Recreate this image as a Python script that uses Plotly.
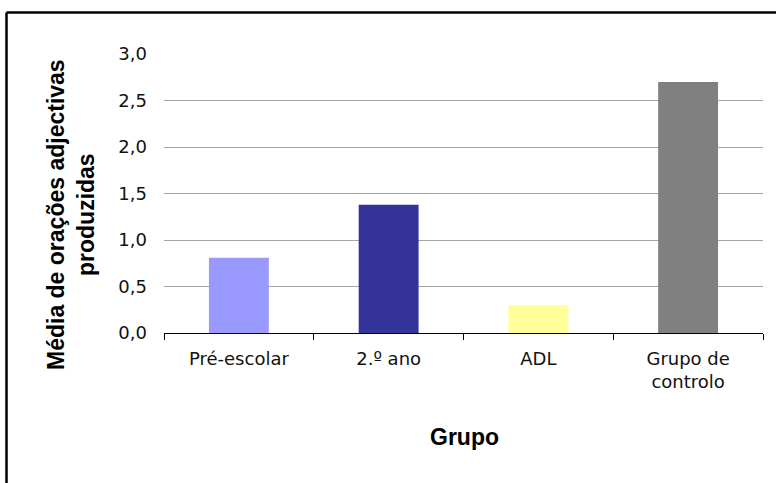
import plotly.graph_objects as go

# Mean number of adjective clauses produced per group
groups = ["Pré-escolar", "2.º ano", "ADL", "Grupo de<br>controlo"]
means = [0.81, 1.38, 0.30, 2.70]
bar_colors = ["#9999FF", "#333399", "#FFFF99", "#808080"]
y_ticks = [0.0, 0.5, 1.0, 1.5, 2.0, 2.5, 3.0]

y_title = "Média de orações adjectivas<br>produzidas"
x_title = "Grupo"

W, H = 776, 483
L, R, T, B = 164, 13, 54, 150
pw, ph = W - L - R, H - T - B


def px_to_paper_x(px):
    return (px - L) / pw


def px_to_paper_y(py):
    return (H - B - py) / ph


fig = go.Figure(
    go.Bar(
        x=groups,
        y=means,
        marker=dict(color=bar_colors, line=dict(width=0)),
        width=0.4,
        hoverinfo="x+y",
    )
)

fig.update_layout(
    width=W,
    height=H,
    margin=dict(l=L, r=R, t=T, b=B, pad=0),
    paper_bgcolor="white",
    plot_bgcolor="white",
    separators=",.",
    showlegend=False,
    font=dict(family="DejaVu Sans", size=18, color="#111111"),
)

fig.update_xaxes(
    type="category",
    showline=True,
    linecolor="black",
    linewidth=1,
    ticks="outside",
    tickson="boundaries",
    ticklen=6,
    tickcolor="black",
    tickwidth=1,
    showgrid=False,
    tickfont=dict(family="DejaVu Sans", size=18, color="#111111"),
    ticklabelstandoff=9,
)

fig.update_yaxes(
    range=[0, 3.0],
    tickvals=y_ticks,
    tickformat=".1f",
    showgrid=True,
    gridcolor="#a6a6a6",
    gridwidth=1,
    zeroline=False,
    showline=False,
    ticks="",
    tickfont=dict(family="DejaVu Sans", size=18, color="#111111"),
    ticklabelstandoff=16,
)

# Axis titles
fig.add_annotation(
    text=y_title,
    xref="paper", yref="paper",
    x=px_to_paper_x(71), y=px_to_paper_y(215),
    xanchor="center", yanchor="middle",
    textangle=-90,
    showarrow=False,
    font=dict(family="Liberation Sans", size=23, color="black", weight="bold"),
)
fig.add_annotation(
    text=x_title,
    xref="paper", yref="paper",
    x=px_to_paper_x(464), y=px_to_paper_y(437),
    xanchor="center", yanchor="middle",
    showarrow=False,
    font=dict(family="Liberation Sans", size=23, color="black", weight="bold"),
)

# Chart frame (left and top edges)
frame_x = px_to_paper_x(6.5)
frame_y = px_to_paper_y(12.5)
fig.add_shape(type="line", xref="paper", yref="paper",
              x0=frame_x, x1=frame_x, y0=frame_y, y1=px_to_paper_y(H + 10),
              line=dict(color="black", width=2.5))
fig.add_shape(type="line", xref="paper", yref="paper",
              x0=frame_x, x1=px_to_paper_x(W + 10), y0=frame_y, y1=frame_y,
              line=dict(color="black", width=2.5))

fig.write_html("out.html")
